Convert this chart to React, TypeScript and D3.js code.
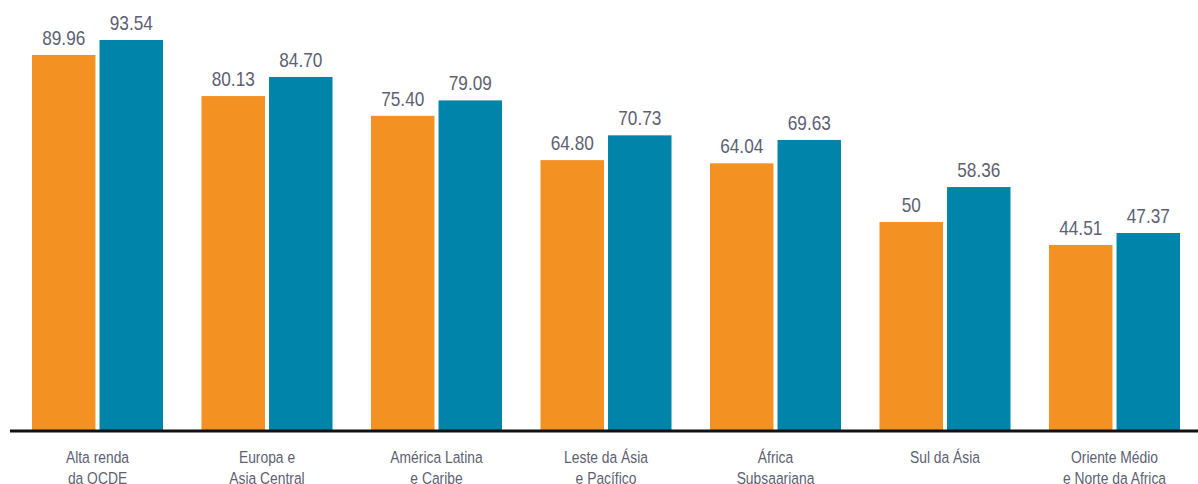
import React from "react";
import * as d3 from "d3";

const categories = [
  "Alta renda|da OCDE",
  "Europa e|Asia Central",
  "América Latina|e Caribe",
  "Leste da Ásia|e Pacífico",
  "África|Subsaariana",
  "Sul da Ásia",
  "Oriente Médio|e Norte da Africa",
];
const seriesNames = ["s1", "s2"];
const series1 = [89.96, 80.13, 75.4, 64.8, 64.04, 50, 44.51];
const series2 = [93.54, 84.7, 79.09, 70.73, 69.63, 58.36, 47.37];
const labels1 = ["89.96", "80.13", "75.40", "64.80", "64.04", "50", "44.51"];
const labels2 = ["93.54", "84.70", "79.09", "70.73", "69.63", "58.36", "47.37"];

const W = 1198;
const H = 484;
const COLORS = ["#F39122", "#0084A9"];
const TEXT = "#5e5f72";
const FONT = "'Liberation Sans', Arial, sans-serif";

export default function App() {
  const baseY = 431;
  const x0 = d3
    .scaleBand<string>()
    .domain(categories)
    .range([12.75, 1199.25])
    .paddingInner(0.227)
    .paddingOuter(0.1135);
  const x1 = d3
    .scaleBand<string>()
    .domain(seriesNames)
    .range([0, x0.bandwidth()])
    .paddingInner(0.06)
    .paddingOuter(0);
  const y = d3.scaleLinear().domain([0, 100]).range([baseY, 13]);

  const values = [series1, series2];
  const labels = [labels1, labels2];

  return (
    <svg
      width={W}
      height={H}
      style={{ position: "absolute", left: 0, top: 0, background: "#fff" }}
      fontFamily={FONT}
    >
      {categories.map((c, i) => (
        <g key={c} transform={`translate(${x0(c)},0)`}>
          {seriesNames.map((s, j) => {
            const v = values[j][i];
            const bx = x1(s)!;
            const bw = x1.bandwidth();
            return (
              <g key={s}>
                <rect x={bx} y={y(v)} width={bw} height={baseY - y(v)} fill={COLORS[j]} />
                <text
                  transform={`translate(${bx + bw / 2},${y(v) - 10}) scale(0.82,1)`}
                  textAnchor="middle"
                  fontSize={21}
                  fill={TEXT}
                >
                  {labels[j][i]}
                </text>
              </g>
            );
          })}
          {c.split("|").map((line, k) => (
            <text
              key={k}
              transform={`translate(${x0.bandwidth() / 2},${463 + k * 21}) scale(0.84,1)`}
              textAnchor="middle"
              fontSize={16.5}
              fill={TEXT}
            >
              {line}
            </text>
          ))}
        </g>
      ))}
      <line x1={10} x2={W} y1={baseY} y2={baseY} stroke="#111" strokeWidth={3} />
    </svg>
  );
}
